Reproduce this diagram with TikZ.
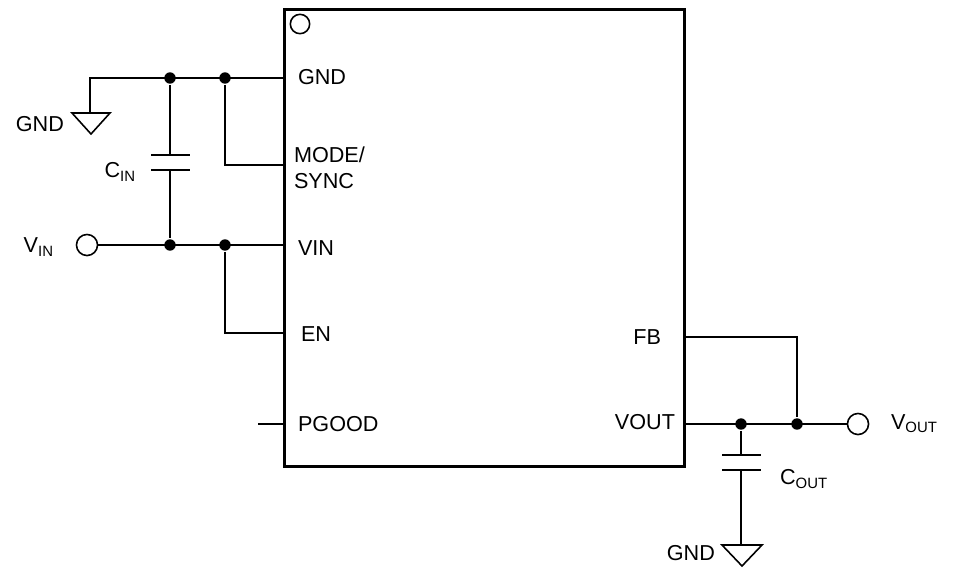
\documentclass[tikz,border=0pt]{standalone}
\usepackage{fontspec}
\setmainfont{Liberation Sans}
\begin{document}
\begin{tikzpicture}[x=0.02cm,y=-0.02cm,line width=1.2pt,
  dot/.style={circle,fill,inner sep=0pt,minimum size=6.5pt},
  term/.style={circle,draw,line width=0.9pt,inner sep=0pt,minimum size=12pt,fill=white},
  lbl/.style={font=\fontsize{12.3pt}{14.5pt}\selectfont,inner sep=0pt},
  wire/.style={line width=1pt}]
\useasboundingbox (0,0) rectangle (960,575);
\node[draw,line width=1.6pt,minimum width=8cm,minimum height=9.14cm,anchor=north west,inner sep=0pt] (ic) at (283,8) {};
\node[draw,line width=0.9pt,circle,minimum size=11pt,inner sep=0pt] (pin1) at (300,24) {};
% pins
\coordinate (pgnd) at (283,78); \coordinate (pmode) at (283,165);
\coordinate (pvin) at (283,245); \coordinate (pen) at (283,333);
\coordinate (ppg) at (283,424); \coordinate (pfb) at (683,337);
\coordinate (pvout) at (683,424);
\node[lbl,anchor=west] (lgnd) at (297,77) {GND};
\node[lbl,anchor=west,align=left] (lmode) at (293,168) {MODE/\\SYNC};
\node[lbl,anchor=west] (lvin) at (297,248) {VIN};
\node[lbl,anchor=west] (len) at (300,334) {EN};
\node[lbl,anchor=west] (lpg) at (297,424) {PGOOD};
\node[lbl,anchor=east] (lfb) at (662,337) {FB};
\node[lbl,anchor=east] (lvout) at (676,422) {VOUT};
% left side
\node[dot] (d1) at (170,78) {}; \node[dot] (d2) at (225,78) {};
\node[dot] (d3) at (170,245) {}; \node[dot] (d4) at (225,245) {};
\coordinate (g1) at (90,78); \coordinate (g1b) at (90,113);
\draw[wire] (pgnd) -- (g1) -- (g1b);
\draw[line width=0.9pt] (72,113) -- (110,113) -- (91,134) -- cycle;
\node[lbl,anchor=east] (gndl) at (65,124) {GND};
\coordinate (c1a) at (170,155); \coordinate (c1b) at (170,170);
\draw[wire] (d1) -- (c1a); \draw[wire] (c1b) -- (d3);
\draw[wire] (151,155) -- (190,155); \draw[wire] (151,170) -- (190,170);
\node[lbl,anchor=east] (cin) at (137,172) {C\textsubscript{\fontsize{8.5pt}{9pt}\selectfont IN}};
\draw[wire] (d2) |- (pmode);
\node[term] (vin) at (87,245) {};
\node[lbl,anchor=east] (vinl) at (55,247) {V\textsubscript{\fontsize{8.5pt}{9pt}\selectfont IN}};
\draw[wire] (vin) -- (pvin);
\draw[wire] (d4) |- (pen);
\draw[wire] (258,424) -- (ppg);
% right side
\node[dot] (d5) at (741,424) {}; \node[dot] (d6) at (797,424) {};
\node[term] (vout) at (858,424) {};
\draw[wire] (pvout) -- (vout);
\draw[wire] (pfb) -| (d6);
\draw[wire] (d5) -- (741,455); \draw[wire] (741,470) -- (741,545);
\draw[wire] (722,455) -- (761,455); \draw[wire] (722,470) -- (761,470);
\node[lbl,anchor=west] (cout) at (779,479) {C\textsubscript{\fontsize{8.5pt}{9pt}\selectfont OUT}};
\draw[line width=0.9pt] (722,545) -- (762,545) -- (742,566) -- cycle;
\node[lbl,anchor=east] (gnd2) at (716,553) {GND};
\node[lbl,anchor=west] (voutl) at (890,424) {V\textsubscript{\fontsize{8.5pt}{9pt}\selectfont OUT}};
\end{tikzpicture}
\end{document}
